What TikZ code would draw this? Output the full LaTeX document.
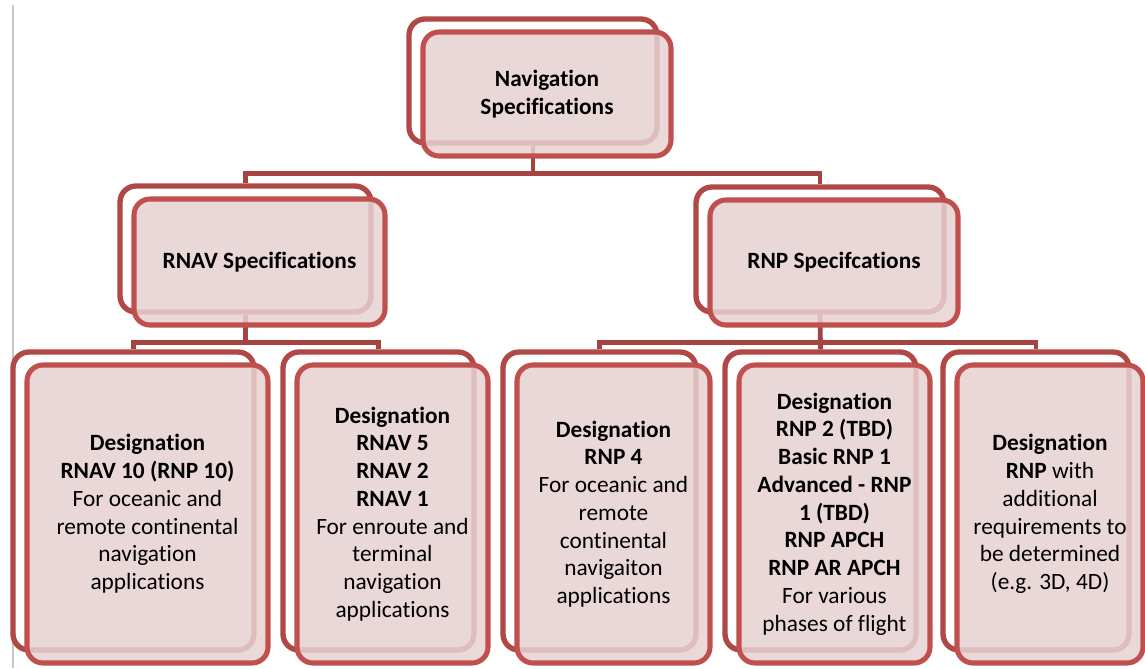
\documentclass[tikz,border=0pt]{standalone}
\usepackage{fontspec}
\setmainfont{Carlito}[Ligatures=NoCommon]
\usepackage{tikz}
\usetikzlibrary{positioning,shadows}
\definecolor{boxred}{RGB}{192,80,77}
\definecolor{backred}{RGB}{176,72,69}
\definecolor{linkred}{RGB}{166,66,63}
\definecolor{boxfill}{RGB}{231,210,210}

\begin{document}
\begin{tikzpicture}[
			x=0.75pt, y=-0.75pt,
			font=\fontsize{17.5pt}{20.8pt}\selectfont,
			back/.style={
				rectangle,
				rounded corners=12pt,
				draw=backred,
				line width=4pt,
				fill=white,
				drop shadow={shadow xshift=-1.5pt, shadow yshift=-1.5pt, opacity=0.3}
			},
			front/.style={
				rectangle,
				rounded corners=12pt,
				draw=boxred,
				line width=3.8pt,
				fill=boxfill,
				fill opacity=0.85,
				text opacity=1,
				align=center,
				inner sep=0pt
			},
			link/.style={
				draw=linkred,
				line width=3.6pt
			}
			]
			\useasboundingbox (0,0) rectangle (1145,668);
			\draw [gray!45, line width=1.2pt] (13,5) -- (13,668);
			
			% We start by placing the back frames
			\node [back, minimum width=186pt, minimum height=93pt] (navb) at (533,81) {};
			\node [back, minimum width=188.25pt, minimum height=94.5pt] (rnavb) at (245.5,249) {};
			\node [back, minimum width=186pt, minimum height=93.75pt] (rnpb) at (820,249.5) {};
			\node [back, minimum width=180.75pt, minimum height=223.5pt] (desig1b) at (133.5,501) {};
			\node [back, minimum width=143.25pt, minimum height=223.5pt] (desig2b) at (378.5,501) {};
			\node [back, minimum width=144.75pt, minimum height=223.5pt] (desig3b) at (599.5,501) {};
			\node [back, minimum width=143.25pt, minimum height=223.5pt] (desig4b) at (820.5,501) {};
			\node [back, minimum width=139.5pt, minimum height=223.5pt] (desig5b) at (1036,501) {};
			
			% then the connectors
			\draw [link] (navb.south) -- ++(0,28) -| (rnavb.north);
			\draw [link] (navb.south) -- ++(0,28) -| (rnpb.north);
			\draw [link] (rnavb.south) -- ++(0,28) -| (desig1b.north);
			\draw [link] (rnavb.south) -- ++(0,28) -| (desig2b.north);
			\draw [link] (rnpb.south) -- ++(0,28) -| (desig3b.north);
			\draw [link] (rnpb.south) -- (desig4b.north);
			\draw [link] (rnpb.south) -- ++(0,28) -| (desig5b.north);
			
			% and the blocks on top
			\node [front, minimum width=186pt, minimum height=93pt, at=(navb), xshift=10.5pt, yshift=-9.75pt] (nav)
			{\textbf{Navigation}\\\textbf{Specifications}};
			
			\node [front, minimum width=188.25pt, minimum height=94.5pt, at=(rnavb), xshift=10.5pt, yshift=-9.75pt] (rnav)
			{\textbf{RNAV Specifications}};
			
			\node [front, minimum width=186pt, minimum height=93.75pt, at=(rnpb), xshift=10.5pt, yshift=-9.75pt] (rnp)
			{\textbf{RNP Specifcations}};
			
			\node [front, minimum width=180.75pt, minimum height=223.5pt, at=(desig1b), xshift=10.5pt, yshift=-9.75pt] (desig1)
			{%
				\textbf{Designation}\\
				\textbf{RNAV 10 (RNP 10)}\\
				For oceanic and\\
				remote continental\\
				navigation\\
				applications
			};
			
			\node [front, minimum width=143.25pt, minimum height=223.5pt, at=(desig2b), xshift=10.5pt, yshift=-9.75pt] (desig2)
			{%
				\textbf{Designation}\\
				\textbf{RNAV 5}\\
				\textbf{RNAV 2}\\
				\textbf{RNAV 1}\\
				For enroute and\\
				terminal\\
				navigation\\
				applications
			};
			
			\node [front, minimum width=144.75pt, minimum height=223.5pt, at=(desig3b), xshift=10.5pt, yshift=-9.75pt] (desig3)
			{%
				\textbf{Designation}\\
				\textbf{RNP 4}\\
				For oceanic and\\
				remote\\
				continental\\
				navigaiton\\
				applications
			};
			
			\node [front, minimum width=143.25pt, minimum height=223.5pt, at=(desig4b), xshift=10.5pt, yshift=-9.75pt] (desig4)
			{%
				\textbf{Designation}\\
				\textbf{RNP 2 (TBD)}\\
				\textbf{Basic RNP 1}\\
				\textbf{Advanced - RNP}\\
				\textbf{1 (TBD)}\\
				\textbf{RNP APCH}\\
				\textbf{RNP AR APCH}\\
				For various\\
				phases of flight
			};
			
			\node [front, minimum width=139.5pt, minimum height=223.5pt, at=(desig5b), xshift=10.5pt, yshift=-9.75pt] (desig5)
			{%
				\textbf{Designation}\\
				\textbf{RNP} with\\
				additional\\
				requirements to\\
				be determined\\
				(e.g. 3D, 4D)
			};
			
\end{tikzpicture}
\end{document}
